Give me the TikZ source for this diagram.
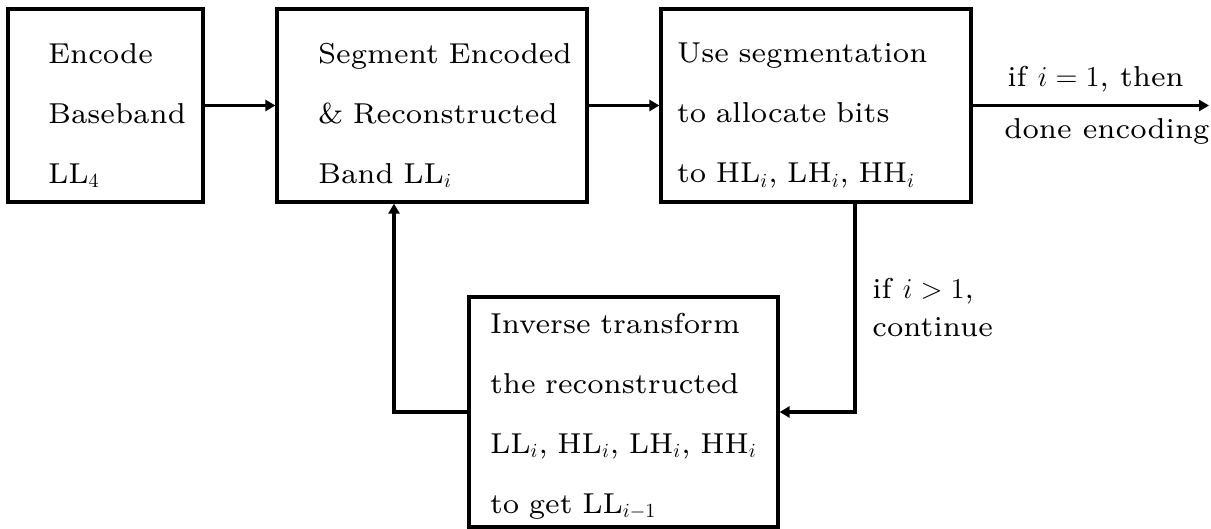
\documentclass[tikz,border=0pt]{standalone}
\usepackage{amsmath}
\usepackage{fontspec}
\newfontfamily\figfont{lmroman7-regular.otf}
\usetikzlibrary{arrows.meta}
\newcommand\padtop[1]{\rule{0pt}{#1}}

\begin{document}
\begin{tikzpicture}[x=0.5pt, y=-0.5pt,
    box/.style={draw, line width=1.6pt, align=left, inner sep=0pt,
      font={\fontsize{14.4}{30}\figfont}},
    flow/.style={line width=1.6pt, -{Triangle[length=5pt, width=5.5pt]}},
    tag/.style={align=left, inner sep=0pt, font={\fontsize{14.4}{19}\figfont}}]
  \useasboundingbox (0,0) rectangle (1211,529);
  % caixas
  \node[box, minimum width=97.5pt, minimum height=96.5pt, text width=57.5pt]
    (encbase) at (105.5,105.5)
    {\padtop{20pt}\mbox{Encode}\\\mbox{Baseband}\\LL$_4$};
  \node[box, minimum width=155pt, minimum height=96.5pt, text width=114pt]
    (segband) at (432,105.5)
    {\padtop{20pt}\mbox{Segment Encoded}\\\mbox{\& Reconstructed}\\\mbox{Band LL$_i$}};
  \node[box, minimum width=155pt, minimum height=96.5pt, text width=139pt]
    (alloc) at (816,105.5)
    {\padtop{20pt}Use segmentation\\to allocate bits\\to HL$_i$, LH$_i$, HH$_i$};
  \node[box, minimum width=154.5pt, minimum height=115pt, text width=133.5pt]
    (invtrans) at (623.5,412)
    {\padtop{14pt}Inverse transform\\the reconstructed\\LL$_i$, HL$_i$, LH$_i$, HH$_i$\\to get LL$_{i-1}$};
  % setas
  \coordinate (done) at (1209,105.5);
  \coordinate (tap) at (855,0);
  \coordinate (rise) at (394,0);
  \draw[flow] (encbase) -- (segband);
  \draw[flow] (segband) -- (alloc);
  \draw[flow] (alloc) -- (done);
  \draw[flow] (alloc.south -| tap) |- (invtrans.east);
  \draw[flow] (invtrans.west) -| (segband.south -| rise);
  % r\'otulos
  \node[tag, anchor=base west] (ifone) at (1007,87) {if $i = 1$, then};
  \node[tag, anchor=base west] (doneenc) at (1004,139) {done encoding};
  \node[tag, anchor=base west] (ifmore) at (872,336) {if $i > 1$,\\continue};
\end{tikzpicture}
\end{document}
